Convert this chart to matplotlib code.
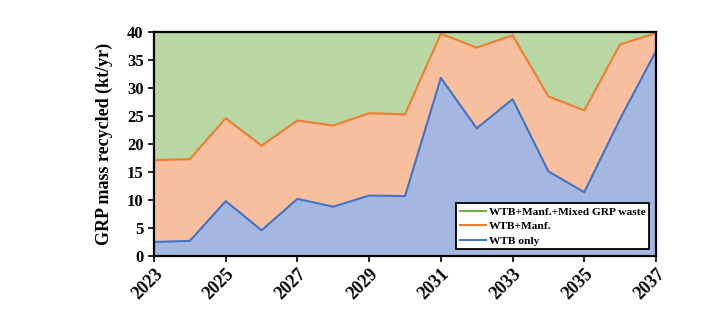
import numpy as np
import matplotlib
matplotlib.use("Agg")
import matplotlib.pyplot as plt

years = list(range(2023, 2038))
wtb_only = [2.5, 2.7, 9.8, 4.6, 10.2, 8.8, 10.8, 10.7, 31.8, 22.8, 28.0, 15.1, 11.4, 24.5, 36.6]
wtb_manf = [17.1, 17.3, 24.6, 19.7, 24.2, 23.3, 25.5, 25.3, 39.7, 37.2, 39.4, 28.5, 26.0, 37.8, 39.8]
wtb_manf_mixed = [40.0] * 15

plt.rcParams['font.family'] = ['Liberation Serif', 'DejaVu Serif']
plt.rcParams['font.weight'] = 'bold'

fig = plt.figure(figsize=(7.14, 3.30), dpi=100)
ax = fig.add_axes([154 / 714, 1 - 256 / 330, (656 - 154) / 714, (256 - 32) / 330])

# filled layers, top first so lower ones sit over them
ax.fill_between(years, 0, wtb_manf_mixed, color='#B8D7A3', lw=0)
ax.fill_between(years, 0, wtb_manf, color='#F7BF9E', lw=0)
ax.fill_between(years, 0, wtb_only, color='#A3B7E0', lw=0)

ax.plot(years, wtb_manf_mixed, color='#70AD47', lw=1.5, label='WTB+Manf.+Mixed GRP waste', clip_on=False)
ax.plot(years, wtb_manf, color='#ED7D31', lw=1.5, label='WTB+Manf.')
ax.plot(years, wtb_only, color='#4472C4', lw=1.5, label='WTB only')

ax.set_xlim(2023, 2037)
ax.set_ylim(0, 40)
ax.set_yticks(range(0, 41, 5))
ax.set_xticks(years[::2])
ax.set_xticklabels([str(y) for y in years[::2]], rotation=45, ha='right',
                   rotation_mode='anchor', fontsize=13, fontweight='bold')
ax.tick_params(axis='y', labelsize=12, direction='out', length=4, width=1.2)
ax.tick_params(axis='x', direction='out', length=4, width=1.2, pad=3)
for lab in ax.get_yticklabels():
    lab.set_fontweight('bold')

for sp in ax.spines.values():
    sp.set_linewidth(1.6)

ax.set_ylabel('GRP mass recycled (kt/yr)', fontsize=13, fontweight='bold', labelpad=10)

leg = ax.legend(loc='lower right', frameon=True, fancybox=False,
                edgecolor='black', facecolor='white', framealpha=1,
                borderpad=0.3, labelspacing=0.4,
                handlelength=2.3, handletextpad=0.3, borderaxespad=0.6,
                prop={'weight': 'bold', 'size': 8.2})
leg.get_frame().set_linewidth(1.3)

fig.savefig('out.png', dpi=100)
